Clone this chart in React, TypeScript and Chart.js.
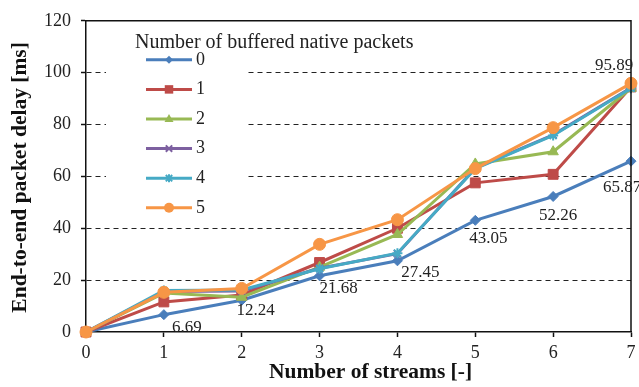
import React, { useEffect, useRef } from "react";
import { Chart, registerables } from "chart.js";

Chart.register(...registerables);

// Number of concurrent streams (x axis)
const streams = [0, 1, 2, 3, 4, 5, 6, 7];
const yTicks = [0, 20, 40, 60, 80, 100, 120];

// End-to-end packet delay [ms] per number of buffered native packets
const buffered0 = [0, 6.69, 12.24, 21.68, 27.45, 43.05, 52.26, 65.87];
const buffered1 = [0, 11.6, 14.3, 26.8, 40.0, 57.5, 60.8, 94.5];
const buffered2 = [0, 15.0, 13.4, 25.0, 37.6, 64.8, 69.5, 94.0];
const buffered3 = [0, 15.6, 15.8, 24.6, 30.2, 63.2, 76.0, 94.2];
const buffered4 = [0, 16.0, 16.2, 24.4, 30.4, 63.0, 75.8, 94.0];
const buffered5 = [0, 15.3, 16.8, 33.8, 43.3, 63.0, 78.8, 95.89];

const seriesNames = ["0", "1", "2", "3", "4", "5"];
const seriesValues = [buffered0, buffered1, buffered2, buffered3, buffered4, buffered5];
const seriesColors = ["#4A7EBB", "#BE4B48", "#98B954", "#7D60A0", "#46AAC5", "#F79646"];
const seriesMarkers = ["rectRot", "rect", "triangle", "crossRot", "star", "circle"];
const markerRadius = [5, 7, 6, 5, 5, 6];

const FONT = "'Liberation Serif', 'Times New Roman', serif";
const TEXT = "#222";

// Text offsets (px) of value labels relative to their points
const labelOffsets0 = [
  [0, 0], [23, 13], [14, 10], [19, 13], [23, 12], [13, 18], [5, 19], [-9, 26],
];
const labelOffset5Last = [-17, -18];

function drawMarker(ctx: CanvasRenderingContext2D, style: string, x: number, y: number, r: number, color: string) {
  ctx.save();
  ctx.fillStyle = color;
  ctx.strokeStyle = color;
  ctx.lineWidth = 2;
  ctx.beginPath();
  if (style === "rectRot") {
    ctx.moveTo(x, y - r); ctx.lineTo(x + r, y); ctx.lineTo(x, y + r); ctx.lineTo(x - r, y); ctx.closePath(); ctx.fill();
  } else if (style === "rect") {
    const s = r * Math.SQRT1_2;
    ctx.rect(x - s, y - s, 2 * s, 2 * s); ctx.fill();
  } else if (style === "triangle") {
    ctx.moveTo(x, y - r); ctx.lineTo(x + r * 0.9, y + r * 0.6); ctx.lineTo(x - r * 0.9, y + r * 0.6); ctx.closePath(); ctx.fill();
  } else if (style === "crossRot") {
    const s = r * 0.8;
    ctx.moveTo(x - s, y - s); ctx.lineTo(x + s, y + s); ctx.moveTo(x + s, y - s); ctx.lineTo(x - s, y + s); ctx.stroke();
  } else if (style === "star") {
    const s = r * 0.8;
    ctx.moveTo(x - s, y - s); ctx.lineTo(x + s, y + s); ctx.moveTo(x + s, y - s); ctx.lineTo(x - s, y + s);
    ctx.moveTo(x, y - r); ctx.lineTo(x, y + r); ctx.stroke();
  } else {
    ctx.arc(x, y, r, 0, Math.PI * 2); ctx.fill();
  }
  ctx.restore();
}

const decorPlugin = {
  id: "decor",
  afterDraw(chart: any) {
    const { ctx, chartArea } = chart;
    const { left, right, top, bottom } = chartArea;
    ctx.save();

    // frame: top and right edges
    ctx.strokeStyle = "#111";
    ctx.lineWidth = 1.5;
    ctx.setLineDash([]);
    ctx.beginPath();
    ctx.moveTo(left, top);
    ctx.lineTo(right, top);
    ctx.lineTo(right, bottom);
    ctx.stroke();

    // value labels
    ctx.fillStyle = TEXT;
    ctx.font = `17px ${FONT}`;
    ctx.textAlign = "center";
    ctx.textBaseline = "middle";
    const meta0 = chart.getDatasetMeta(0);
    meta0.data.forEach((pt: any, i: number) => {
      if (i === 0) return;
      const [dx, dy] = labelOffsets0[i];
      ctx.fillText(buffered0[i].toFixed(2), pt.x + dx, pt.y + dy);
    });
    const meta5 = chart.getDatasetMeta(5);
    const last = meta5.data[meta5.data.length - 1];
    ctx.fillText(buffered5[buffered5.length - 1].toFixed(2), last.x + labelOffset5Last[0], last.y + labelOffset5Last[1]);

    // legend box
    ctx.fillStyle = "#fff";
    ctx.fillRect(left + 20, top + 6, 139, 196);
    ctx.fillStyle = TEXT;
    ctx.font = `20px ${FONT}`;
    ctx.textAlign = "left";
    ctx.fillText("Number of buffered native packets", left + 49, top + 22);
    ctx.font = `18px ${FONT}`;
    seriesNames.forEach((name, i) => {
      const y = top + 39 + i * 29.6;
      const x0 = left + 60;
      const x1 = left + 106;
      ctx.strokeStyle = seriesColors[i];
      ctx.lineWidth = 3;
      ctx.beginPath();
      ctx.moveTo(x0, y);
      ctx.lineTo(x1, y);
      ctx.stroke();
      drawMarker(ctx, seriesMarkers[i], (x0 + x1) / 2, y, markerRadius[i] - 1, seriesColors[i]);
      ctx.fillStyle = TEXT;
      ctx.fillText(name, x1 + 4, y);
    });

    // axis titles
    ctx.font = `bold 21.5px ${FONT}`;
    ctx.textAlign = "center";
    ctx.fillStyle = "#111";
    ctx.fillText("Number of streams [-]", (left + right) / 2 + 12, 372);
    ctx.save();
    ctx.translate(20, (top + bottom) / 2 + 1);
    ctx.rotate(-Math.PI / 2);
    ctx.fillText("End-to-end packet delay [ms]", 0, 0);
    ctx.restore();

    ctx.restore();
  },
};

export default function App() {
  const canvasRef = useRef<HTMLCanvasElement | null>(null);

  useEffect(() => {
    if (!canvasRef.current) return;
    const datasets = seriesValues.map((vals, i) => ({
      label: seriesNames[i],
      data: streams.map((s, j) => ({ x: s, y: vals[j] })),
      borderColor: seriesColors[i],
      backgroundColor: seriesColors[i],
      borderWidth: 3,
      pointStyle: seriesMarkers[i],
      pointRadius: markerRadius[i],
      pointBorderWidth: seriesMarkers[i] === "crossRot" || seriesMarkers[i] === "star" ? 2 : 1,
      order: seriesNames.length - 1 - i,
      tension: 0,
      clip: false as any,
    }));

    const chart = new Chart(canvasRef.current, {
      type: "line",
      data: { datasets },
      options: {
        animation: false,
        responsive: false,
        maintainAspectRatio: false,
        layout: { padding: { left: 0, right: 3, top: 16, bottom: 0 } },
        plugins: { legend: { display: false }, tooltip: { enabled: false } },
        scales: {
          x: {
            type: "linear",
            min: streams[0],
            max: streams[streams.length - 1],
            afterBuildTicks: (scale: any) => {
              scale.ticks = streams.map((v) => ({ value: v }));
            },
            afterFit: (scale: any) => {
              scale.height = 55;
              scale.paddingLeft = 0;
              scale.paddingRight = 0;
            },
            grid: {
              drawOnChartArea: false,
              drawTicks: true,
              tickLength: 5,
              tickColor: "#111",
              tickWidth: 1.5,
            },
            border: { color: "#111", width: 1.5 },
            ticks: {
              color: TEXT,
              font: { family: FONT, size: 18 },
              padding: 5,
              maxRotation: 0,
              autoSkip: false,
            },
          },
          y: {
            type: "linear",
            min: yTicks[0],
            max: yTicks[yTicks.length - 1],
            afterBuildTicks: (scale: any) => {
              scale.ticks = yTicks.map((v) => ({ value: v }));
            },
            afterFit: (scale: any) => {
              scale.width = 86;
            },
            grid: {
              color: (c: any) =>
                c.tick && (c.tick.value === yTicks[0] || c.tick.value === yTicks[yTicks.length - 1])
                  ? "rgba(0,0,0,0)"
                  : "#222",
              lineWidth: 1,
              tickBorderDash: [],
              drawTicks: true,
              tickLength: 5,
              tickColor: "#111",
              tickWidth: 1.5,
            } as any,
            border: { color: "#111", width: 1.5, dash: [5, 4] },
            ticks: {
              color: TEXT,
              font: { family: FONT, size: 18 },
              padding: 10,
            },
          },
        },
      },
      plugins: [decorPlugin],
    });
    return () => chart.destroy();
  }, []);

  return (
    <div style={{ position: "fixed", left: 0, top: 0, width: 639, height: 387, background: "#fff" }}>
      <canvas ref={canvasRef} width={639} height={387} style={{ width: 639, height: 387, display: "block" }} />
    </div>
  );
}
